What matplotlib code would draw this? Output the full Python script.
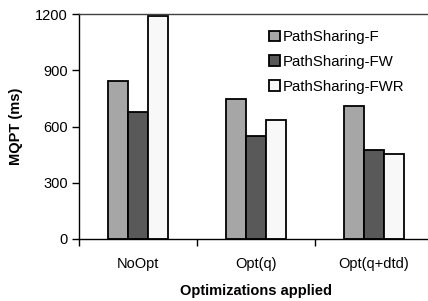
import matplotlib.pyplot as plt
import numpy as np

plt.rcParams['font.family'] = ['Liberation Sans', 'DejaVu Sans']

categories = ['NoOpt', 'Opt(q)', 'Opt(q+dtd)']
series = ['PathSharing-F', 'PathSharing-FW', 'PathSharing-FWR']
values_f = [843, 745, 711]
values_fw = [680, 551, 475]
values_fwr = [1190, 637, 453]
colors = ['#A6A6A6', '#595959', '#F8F8F8']
yticks = [0, 300, 600, 900, 1200]

fig = plt.figure(figsize=(4.28, 3.01), dpi=100)
ax = fig.add_axes([79 / 428, 62 / 301, 354 / 428, 225 / 301])

x = np.arange(len(categories))
w = 0.168
for i, (vals, name) in enumerate(zip([values_f, values_fw, values_fwr], series)):
    ax.bar(x + (i - 1) * w, vals, w, color=colors[i], edgecolor='black',
           linewidth=1.3, label=name)

ax.set_xlim(-0.5, 2.5)
ax.set_ylim(0, 1200)
ax.set_yticks(yticks)
ax.set_xticks(x)
ax.set_xticklabels(categories)
ax.set_xticks([-0.5, 0.5, 1.5, 2.5], minor=True)
ax.tick_params(axis='x', which='major', length=0, pad=13, labelsize=10.5)
ax.tick_params(axis='x', which='minor', length=5, direction='out', width=1)
ax.tick_params(axis='y', length=5, direction='out', width=1, labelsize=10.5, pad=3)

ax.spines['right'].set_visible(False)
for s in ['left', 'bottom', 'top']:
    ax.spines[s].set_linewidth(1)
ax.spines['top'].set_color('#404040')

ax.set_ylabel('MQPT (ms)', fontweight='bold', fontsize=10.5, labelpad=9)
ax.set_xlabel('Optimizations applied', fontweight='bold', fontsize=10.5, labelpad=9)

ax.legend(loc='upper left', bbox_to_anchor=(269 / 428, 1 - 30 / 301),
          bbox_transform=fig.transFigure, frameon=False, fontsize=10.8,
          handlelength=0.7, handleheight=0.7, handletextpad=0.2,
          labelspacing=0.72, borderpad=0, borderaxespad=0)

fig.savefig('out.png', dpi=100)
